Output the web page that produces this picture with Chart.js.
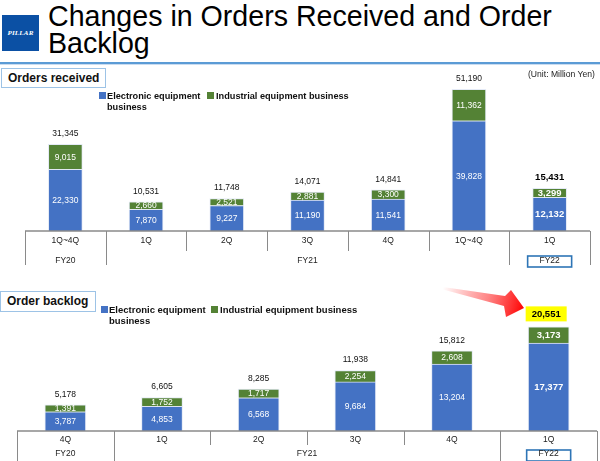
<!DOCTYPE html>
<html>
<head>
<meta charset="utf-8">
<script src="https://cdn.jsdelivr.net/npm/chart.js@4"></script>
<style>
  html, body { margin:0; padding:0; background:#fff; }
  body { width:600px; height:461px; position:relative; overflow:hidden; font-family:"Liberation Sans", Arial, sans-serif; color:#111; }
  .abs { position:absolute; }
  canvas { position:absolute; left:0; }
  .title { left:48px; top:2.5px; font-size:28.6px; line-height:27px; color:#000; white-space:nowrap; }
  .logo { left:2px; top:15px; width:37px; height:36px; background:#0b50a4; color:#fff; font-family:"Liberation Serif","DejaVu Serif",serif; font-style:italic; font-weight:bold; font-size:7px; line-height:36px; text-align:center; letter-spacing:0.2px; }
  .rule { left:0; top:62px; width:600px; height:2px; background:#5b9bd5; }
  .rule2 { left:0; top:64px; width:600px; height:1px; background:#c9dcf0; }
  .box { box-sizing:border-box; border:1px solid #9dc3e6; font-weight:bold; font-size:12px; padding-left:6px; white-space:nowrap; background:#fff; }
  .sq { width:7px; height:7px; }
  .blue { background:#4472c4; }
  .green { background:#548235; }
  .legt { font-weight:bold; font-size:9.2px; line-height:11px; white-space:nowrap; color:#111; }
  .unit { left:528px; top:68.5px; font-size:8.6px; line-height:11px; white-space:nowrap; color:#222; }
</style>
</head>
<body>
<div class="abs logo">PILLAR</div>
<div class="abs title">Changes in Orders Received and Order<br>Backlog</div>
<div class="abs rule"></div>
<div class="abs rule2"></div>

<canvas id="top" width="600" height="270" style="top:0px"></canvas>
<canvas id="bottom" width="600" height="191" style="top:270px"></canvas>

<div class="abs box" style="left:1px;top:68px;width:105px;height:20px;line-height:18px;">Orders received</div>
<div class="abs unit">(Unit: Million Yen)</div>
<div class="abs sq blue" style="left:99px;top:92px"></div>
<div class="abs legt" style="left:107px;top:90.5px">Electronic equipment<br>business</div>
<div class="abs sq green" style="left:207px;top:92px"></div>
<div class="abs legt" style="left:216px;top:90.5px">Industrial equipment business</div>

<div class="abs box" style="left:0px;top:291px;width:96px;height:21px;line-height:19px;">Order backlog</div>
<div class="abs sq blue" style="left:101px;top:306px;width:6.5px;height:6.5px"></div>
<div class="abs legt" style="left:109px;top:303.5px;font-size:9.5px">Electronic equipment<br>business</div>
<div class="abs sq green" style="left:211px;top:306px;width:6.5px;height:6.5px"></div>
<div class="abs legt" style="left:220px;top:303.5px;font-size:9.5px">Industrial equipment business</div>

<svg class="abs" style="left:0;top:0" width="600" height="461">
  <defs>
    <linearGradient id="ag" x1="443" y1="288" x2="524" y2="310" gradientUnits="userSpaceOnUse">
      <stop offset="0" stop-color="#ff0000" stop-opacity="0"/>
      <stop offset="0.55" stop-color="#ff2020" stop-opacity="0.55"/>
      <stop offset="1" stop-color="#ff0000" stop-opacity="1"/>
    </linearGradient>
  </defs>
  <polygon points="443,287 505,296 511,290 524,308 506,317 504,306 443,289.5" fill="url(#ag)"/>
</svg>

<script>
// ---------- DATA ----------
const topCategories   = ["1Q~4Q", "1Q", "2Q", "3Q", "4Q", "1Q~4Q", "1Q"];
const topElectronic   = [22330, 7870, 9227, 11190, 11541, 39828, 12132];
const topIndustrial   = [9015, 2660, 2521, 2881, 3300, 11362, 3299];
const topTotals       = [31345, 10531, 11748, 14071, 14841, 51190, 15431];
const topGroupLabels  = ["FY20", "FY21", "FY22"];
const topGroupSpans   = [1, 5, 1];

const bottomCategories  = ["4Q", "1Q", "2Q", "3Q", "4Q", "1Q"];
const bottomElectronic  = [3787, 4853, 6568, 9684, 13204, 17377];
const bottomIndustrial  = [1391, 1752, 1717, 2254, 2608, 3173];
const bottomTotals      = [5178, 6605, 8285, 11938, 15812, 20551];
const bottomGroupLabels = ["FY20", "FY21", "FY22"];
const bottomGroupSpans  = [1, 4, 1];

const seriesNames = ["Electronic equipment business", "Industrial equipment business"];

// ---------- HELPERS ----------
const FONT = '"Liberation Sans", Arial, sans-serif';
const fmt = v => v.toLocaleString('en-US');

const tablePlugin = {
  id: 'tableAxis',
  afterDraw(chart, args, o) {
    const ctx = chart.ctx;
    const xs = chart.scales.x;
    const n = chart.data.labels.length;
    const left = chart.chartArea.left, right = chart.chartArea.right;
    const w = (right - left) / n;
    const axisY = chart.chartArea.bottom;
    ctx.save();
    ctx.strokeStyle = '#8a8a8a';
    ctx.lineWidth = 1.3;
    ctx.beginPath();
    ctx.moveTo(left, axisY); ctx.lineTo(right, axisY);
    ctx.stroke();
    const fullIdx = new Set([0]);
    let acc = 0;
    o.spans.forEach(s => { acc += s; fullIdx.add(acc); });
    ctx.lineWidth = 1;
    for (let i = 0; i <= n; i++) {
      const x = Math.round(left + i * w) + 0.5;
      ctx.beginPath();
      ctx.moveTo(x, axisY);
      ctx.lineTo(x, fullIdx.has(i) ? o.fullEnd : o.shortEnd);
      ctx.stroke();
    }
    ctx.fillStyle = '#222';
    ctx.font = '8.5px ' + FONT;
    ctx.textAlign = 'center';
    ctx.textBaseline = 'middle';
    chart.data.labels.forEach((lab, i) => {
      ctx.fillText(lab, xs.getPixelForValue(i), o.labelY);
    });
    acc = 0;
    o.groups.forEach((g, gi) => {
      const a = acc, b = acc + o.spans[gi] - 1;
      acc += o.spans[gi];
      const cx = (xs.getPixelForValue(a) + xs.getPixelForValue(b)) / 2;
      if (gi === o.groups.length - 1) {
        ctx.strokeStyle = '#2e75b6';
        ctx.lineWidth = 1.6;
        ctx.strokeRect(cx - 22, o.boxTop, 44, o.boxH);
      }
      ctx.fillStyle = '#222';
      ctx.fillText(g, cx, o.groupY);
    });
    ctx.restore();
  }
};

const valuePlugin = {
  id: 'values',
  afterDatasetsDraw(chart, args, o) {
    const ctx = chart.ctx;
    const m0 = chart.getDatasetMeta(0), m1 = chart.getDatasetMeta(1);
    const last = chart.data.labels.length - 1;
    ctx.save();
    ctx.textAlign = 'center';
    ctx.textBaseline = 'middle';
    [m0, m1].forEach((meta, di) => {
      meta.data.forEach((bar, i) => {
        const v = chart.data.datasets[di].data[i];
        ctx.fillStyle = '#fff';
        ctx.font = (i === last ? 'bold 9.5px ' : '8.5px ') + FONT;
        ctx.fillText(fmt(v), bar.x, (bar.y + bar.base) / 2 + 0.5);
      });
    });
    m1.data.forEach((bar, i) => {
      const t = o.totals[i];
      const y = bar.y - 10.5;
      if (i === last) {
        if (o.highlight) {
          ctx.fillStyle = '#ffff00';
          ctx.fillRect(bar.x - 23, bar.y - 20.5, 41, 15);
          ctx.fillStyle = '#000';
          ctx.font = 'bold 9.5px ' + FONT;
          ctx.fillText(fmt(t), bar.x - 2.5, bar.y - 12.5);
        } else {
          ctx.fillStyle = '#000';
          ctx.font = 'bold 9.5px ' + FONT;
          ctx.fillText(fmt(t), bar.x, y);
        }
      } else {
        ctx.fillStyle = '#111';
        ctx.font = '8.5px ' + FONT;
        ctx.fillText(fmt(t), bar.x, y);
      }
    });
    ctx.restore();
  }
};

function makeChart(id, cats, elec, ind, totals, groups, spans, cfg) {
  return new Chart(document.getElementById(id), {
    type: 'bar',
    data: {
      labels: cats,
      datasets: [
        { label: seriesNames[0], data: elec, backgroundColor: '#4472c4', borderColor: 'rgba(225,232,245,0.9)', borderWidth: 1, barThickness: cfg.barW },
        { label: seriesNames[1], data: ind,  backgroundColor: '#548235', borderColor: 'rgba(225,232,245,0.9)', borderWidth: 1, barThickness: cfg.barW }
      ]
    },
    options: {
      responsive: false,
      devicePixelRatio: 1,
      animation: false,
      layout: { padding: cfg.padding },
      plugins: {
        legend: { display: false },
        tooltip: { enabled: false },
        values: { totals: totals, highlight: cfg.highlight },
        tableAxis: Object.assign({ groups: groups, spans: spans }, cfg.table)
      },
      scales: {
        x: { stacked: true, display: false },
        y: { stacked: true, display: false, min: 0, max: cfg.max }
      }
    },
    plugins: [tablePlugin, valuePlugin]
  });
}

makeChart('top', topCategories, topElectronic, topIndustrial, topTotals, topGroupLabels, topGroupSpans, {
  barW: 34, max: 60000, highlight: false,
  padding: { left: 25, right: 10, top: 65, bottom: 39 },
  table: { fullEnd: 265, shortEnd: 251, labelY: 241, groupY: 260.5, boxTop: 256, boxH: 11 }
});

makeChart('bottom', bottomCategories, bottomElectronic, bottomIndustrial, bottomTotals, bottomGroupLabels, bottomGroupSpans, {
  barW: 41, max: 30000, highlight: true,
  padding: { left: 17, right: 3, top: 9, bottom: 30 },
  table: { fullEnd: 191, shortEnd: 175, labelY: 170, groupY: 184, boxTop: 180, boxH: 11 }
});
</script>
</body>
</html>
